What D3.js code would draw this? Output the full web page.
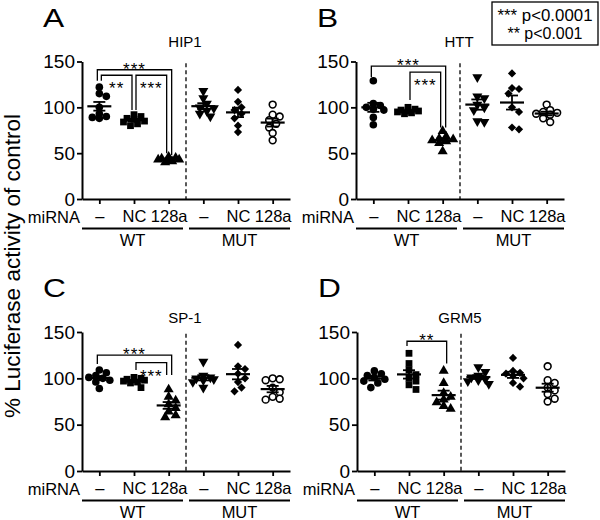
<!DOCTYPE html>
<html><head><meta charset="utf-8">
<script src="https://cdn.jsdelivr.net/npm/d3@7"></script>
<style>
body{margin:0;background:#fff}
svg{display:block;font-family:"Liberation Sans",Arial,Helvetica,sans-serif}
</style>
</head><body>
<svg id="c" width="600" height="520"></svg>
<script>
// ---- categories & labels ----
const groups = ["WT –","WT NC","WT 128a","MUT –","MUT NC","MUT 128a"];
const treatmentLabels = ["–","NC","128a","–","NC","128a"];
const constructLabels = ["WT","MUT"];
const yTicks = [0,50,100,150];
const panelLetters = ["A","B","C","D"];
const panelTitles = ["HIP1","HTT","SP-1","GRM5"];
const markerShapes = ["circle","square","triangle","invTriangle","diamond","openCircle"];
const legendLines = ["*** p<0.0001","** p<0.001"];
const yLabel = "% Luciferase activity of control";

// ---- values (% of control), one array per group ----
const hip1 = [
  [122,115,112,100,93,90,89,88],
  [92,90,88,87,85,84,82,80],
  [46,45,44,43,43,42,41,40],
  [118,110,104,100,99,96,93,90],
  [119,106,100,97,93,88,80,73],
  [103,92,90,86,82,78,72,64]
];
const htt = [
  [129,104,102,100,98,97,89,81],
  [100,98,97,96,96,95,94,93],
  [74,68,66,65,64,63,61,52],
  [133,112,110,103,100,97,85,84],
  [137,121,120,115,100,95,78,76],
  [103,97,95,94,93,92,88,84]
];
const sp1 = [
  [109,106,103,101,100,98,96,89],
  [101,100,99,98,97,96,95,90],
  [88,80,76,72,68,64,60,58],
  [118,103,101,100,99,98,96,90],
  [136,113,110,105,100,96,90,86],
  [100,99,98,90,85,80,78,77]
];
const grm5 = [
  [108,105,103,101,99,97,95,90],
  [127,116,109,104,100,97,93,88],
  [108,95,84,80,77,74,70,67],
  [112,107,103,101,99,98,97,94],
  [122,108,106,105,103,100,95,91],
  [113,98,95,90,87,83,78,75]
];

// ---- significance brackets (values in data units) ----
const hip1Brackets = [
  {from:0,to:2,label:"***",top:141,endFrom:129,endTo:48,role:"outer"},
  {from:0,to:1,label:"**",top:135,endFrom:129,endTo:97,role:"inner"},
  {from:1,to:2,label:"***",top:135,endFrom:97,endTo:50,role:"inner"}
];
const httBrackets = [
  {from:0,to:2,label:"***",top:145,endFrom:133,endTo:78,role:"outer"},
  {from:1,to:2,label:"***",top:138.5,endFrom:108,endTo:78,role:"inner"}
];
const sp1Brackets = [
  {from:0,to:2,label:"***",top:125,endFrom:115.5,endTo:103.6,role:"outer"},
  {from:1,to:2,label:"***",top:117,endFrom:109,endTo:103.6,role:"inner"}
];
const grm5Brackets = [
  {from:1,to:2,label:"**",top:140,endFrom:135,endTo:116,role:"outer"}
];

// ---- drawing ----
const svg = d3.select("#c");
const panels = [
  {data:hip1, br:hip1Brackets, left:82,  y0:199, y150:61.5, titleY:47},
  {data:htt,  br:httBrackets,  left:356, y0:199, y150:61.5, titleY:47},
  {data:sp1,  br:sp1Brackets,  left:82,  y0:471, y150:332,  titleY:323},
  {data:grm5, br:grm5Brackets, left:357, y0:471, y150:332,  titleY:323}
];

// compact beeswarm: offsets limited to +/- maxOff, overlaps allowed when crowded
function swarm(vals, yS, cx, d, step, maxOff){
  const order = vals.map((v,i)=>i).sort((a,b)=>vals[b]-vals[a]);
  const placed = [], out = new Array(vals.length);
  const cands = [0];
  for (let k=1; k*step<=maxOff; k++){ cands.push(k*step, -k*step); }
  for (const i of order){
    const py = yS(vals[i]);
    let best = 0, bestScore = Infinity;
    for (const o of cands){
      let score = 0;
      placed.forEach(p=>{
        const dd = Math.sqrt((p.x-o)*(p.x-o)+(p.y-py)*(p.y-py));
        if (dd < d) score += (d-dd);
      });
      if (score < bestScore - 1e-9){ bestScore = score; best = o; }
      if (score === 0) break;
    }
    placed.push({x:best,y:py});
    out[i] = cx+best;
  }
  return out;
}

function marker(g, shape, x, y){
  if (shape==="circle"){
    g.append("circle").attr("cx",x).attr("cy",y).attr("r",3.8).attr("fill","#000");
  } else if (shape==="openCircle"){
    g.append("circle").attr("cx",x).attr("cy",y).attr("r",3.4).attr("fill","#fff").attr("stroke","#000").attr("stroke-width",1.6);
  } else {
    let type = d3.symbolSquare, size = 46, rot = 0;
    if (shape==="triangle"){ type=d3.symbolTriangle; size=44; }
    if (shape==="invTriangle"){ type=d3.symbolTriangle; size=44; rot=180; }
    if (shape==="diamond"){ type=d3.symbolSquare; size=34; rot=45; }
    g.append("path").attr("d", d3.symbol().type(type).size(size)())
      .attr("transform",`translate(${x},${y}) rotate(${rot})`).attr("fill","#000");
  }
}

panels.forEach((P, pi) => {
  const g = svg.append("g");
  const y = d3.scaleLinear().domain([0,150]).range([P.y0, P.y150]);
  const x = d3.scalePoint().domain(groups).range([P.left, P.left+208]).padding(0.5);
  const midGap = (x(groups[2])+x(groups[3]))/2;

  // y axis
  const ya = g.append("g").attr("transform",`translate(${P.left},0)`)
    .call(d3.axisLeft(y).tickValues(yTicks).tickSize(5).tickSizeOuter(0).tickPadding(2));
  ya.attr("font-family",null).attr("font-size",null);
  ya.select(".domain").attr("stroke-width",2);
  ya.selectAll(".tick line").attr("stroke-width",1.8);
  ya.selectAll("text").attr("font-size",19).attr("fill","#000");

  // x axis
  const xa = g.append("g").attr("transform",`translate(0,${P.y0})`)
    .call(d3.axisBottom(x).tickSize(5).tickSizeOuter(0).tickPadding(6).tickFormat((d,i)=>treatmentLabels[i]));
  xa.attr("font-family",null).attr("font-size",null);
  xa.select(".domain").attr("stroke-width",2);
  xa.selectAll(".tick line").attr("stroke-width",1.8);
  xa.selectAll("text").attr("font-size",16.5).attr("fill","#000");

  g.append("text").attr("x",P.left-2).attr("y",P.y0+24).attr("text-anchor","end")
    .attr("font-size",16.5).text("miRNA");

  // construct underlines and labels
  const spans = [[P.left, midGap-3],[midGap+3, P.left+208]];
  spans.forEach((s,k)=>{
    g.append("line").attr("x1",s[0]).attr("x2",s[1]).attr("y1",P.y0+29.5).attr("y2",P.y0+29.5)
      .attr("stroke","#000").attr("stroke-width",2);
    g.append("text").attr("x",(s[0]+s[1])/2).attr("y",P.y0+47).attr("text-anchor","middle")
      .attr("font-size",16.5).text(constructLabels[k]);
  });

  // dashed separator
  g.append("line").attr("x1",midGap).attr("x2",midGap).attr("y1",y(148)).attr("y2",P.y0)
    .attr("stroke","#000").attr("stroke-width",1.3).attr("stroke-dasharray","4,3");

  // title & letter
  g.append("text").attr("x",P.left+103).attr("y",P.titleY).attr("text-anchor","middle")
    .attr("font-size",15).text(panelTitles[pi]);
  g.append("text").attr("transform",`translate(${P.left-39},${P.y150-35}) scale(1.22,1)`)
    .attr("font-size",26).text(panelLetters[pi]);

  // points
  P.data.forEach((vals, gi) => {
    const cx = x(groups[gi]);
    const xs = swarm(vals, y, cx, 6, 3.5, 11);
    vals.forEach((v,i)=> marker(g, markerShapes[gi], xs[i], y(v)));
    const m = d3.mean(vals);
    const sem = d3.deviation(vals)/Math.sqrt(vals.length);
    g.append("line").attr("x1",cx-12).attr("x2",cx+12).attr("y1",y(m)).attr("y2",y(m))
      .attr("stroke","#000").attr("stroke-width",2.2);
    g.append("line").attr("x1",cx).attr("x2",cx).attr("y1",y(m-sem)).attr("y2",y(m+sem))
      .attr("stroke","#000").attr("stroke-width",1.8);
    [m-sem, m+sem].forEach(v=>{
      g.append("line").attr("x1",cx-6).attr("x2",cx+6).attr("y1",y(v)).attr("y2",y(v))
        .attr("stroke","#000").attr("stroke-width",1.8);
    });
  });

  // brackets
  P.br.forEach(b=>{
    const outer = b.role==="outer";
    const xa1 = x(groups[b.from]) + (outer ? -2 : 2);
    const xb1 = x(groups[b.to]) + (outer ? 3 : -2);
    const yt = y(b.top);
    g.append("path")
      .attr("d",`M${xa1},${y(b.endFrom)}V${yt}H${xb1}V${y(b.endTo)}`)
      .attr("fill","none").attr("stroke","#000").attr("stroke-width",1.3);
    g.append("text").attr("x",(xa1+xb1)/2).attr("y", outer ? yt+5 : yt+19)
      .attr("text-anchor","middle").attr("font-size",17).attr("letter-spacing",1)
      .text(b.label);
  });
});

// y-axis label
svg.append("text").attr("transform","translate(20,266) rotate(-90)")
  .attr("text-anchor","middle").attr("font-size",22.5).text(yLabel);

// legend
svg.append("rect").attr("x",492).attr("y",2).attr("width",106).attr("height",43)
  .attr("fill","#fff").attr("stroke","#000").attr("stroke-width",1.3);
svg.append("text").attr("x",545).attr("y",21).attr("text-anchor","middle").attr("font-size",16.5)
  .attr("textLength",95).attr("lengthAdjust","spacingAndGlyphs").text(legendLines[0]);
svg.append("text").attr("x",545).attr("y",39).attr("text-anchor","middle").attr("font-size",16.5)
  .attr("textLength",75).attr("lengthAdjust","spacingAndGlyphs").text(legendLines[1]);
</script>
</body></html>
